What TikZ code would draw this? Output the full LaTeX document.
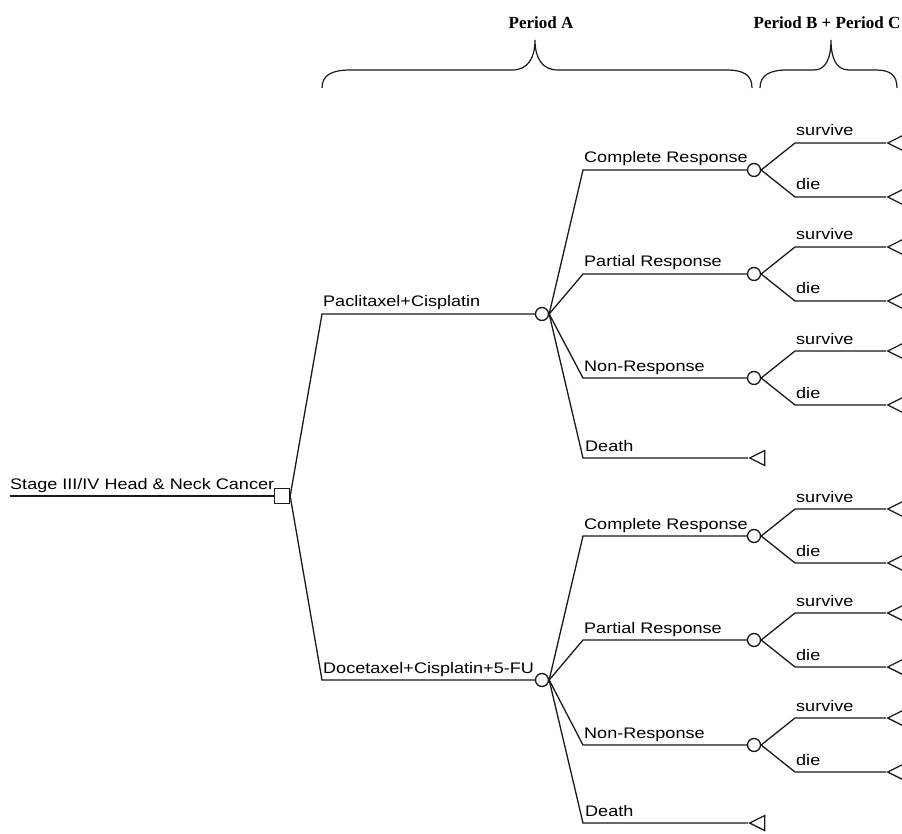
\documentclass[tikz,border=0pt]{standalone}
\usepackage{fontspec}
\setmainfont{Liberation Sans}[FakeStretch=1.18]
\newfontfamily\hdrfont{Liberation Serif}
\usetikzlibrary{shapes.geometric}
\tikzset{
  br/.style={line width=1.3pt, draw=black!90},
  brace/.style={line width=1.2pt, draw=black!90},
  lbl/.style={anchor=base west, inner sep=0pt, font=\fontsize{15.3}{18}\selectfont},
  hdr/.style={anchor=base, inner sep=0pt, font=\hdrfont\bfseries\fontsize{17}{20}\selectfont},
  chance/.style={circle, draw=black!90, line width=1.3pt, minimum size=13pt, inner sep=0pt, fill=white},
  decision/.style={rectangle, draw=black!90, line width=1.3pt, minimum size=15pt, inner sep=0pt, fill=white},
  term/.style={isosceles triangle, isosceles triangle stretches, shape border rotate=180,
    minimum height=15pt, minimum width=15pt, inner sep=0pt, draw=black!90, line width=1.3pt, anchor=apex}
}
\begin{document}
\begin{tikzpicture}[x=1pt,y=-1pt]
\useasboundingbox (0,0) rectangle (902,834);

% headers
\node[hdr] (pa) at (541,29) {Period A};
\node[hdr] (pbc) at (827,29) {Period B + Period C};
\draw[brace] (322,88) .. controls (322,75) and (332,70) .. (350,70) -- (512,70)
  .. controls (528,70) and (535,58) .. (535,40)
  .. controls (535,58) and (542,70) .. (558,70) -- (726,70)
  .. controls (744,70) and (752,75) .. (752,88);
\draw[brace] (760,88) .. controls (760,75) and (770,70) .. (787,70) -- (814,70)
  .. controls (826,70) and (831,58) .. (831,40)
  .. controls (831,58) and (836,70) .. (849,70) -- (876,70)
  .. controls (890,70) and (897,75) .. (897,88);

% root
\coordinate (r0) at (10,496);
\node[decision] (d) at (282,496) {};
\draw[br] (r0) -- (d.west);
\node[lbl] (lroot) at (10,489) {Stage III/IV Head \& Neck Cancer};

% treatments
\node[chance] (t1) at (542,314) {};
\coordinate (t1k) at (322,314);
\draw[br] (d.east) -- (t1k) -- (t1.west);
\node[lbl] (lt1) at (323,307) {Paclitaxel+Cisplatin};

\node[chance] (t2) at (542,680) {};
\coordinate (t2k) at (322,680);
\draw[br] (d.east) -- (t2k) -- (t2.west);
\node[lbl] (lt2) at (323,673) {Docetaxel+Cisplatin+5-FU};

\foreach \t/\ya/\yb/\yc/\yd in {1/170/274/378/458, 2/536/640/745/823} {
  \foreach \k/\lab/\y in {1/Complete Response/\ya, 2/Partial Response/\yb, 3/Non-Response/\yc} {
    \node[chance] (o\t\k) at (754,\y) {};
    \coordinate (ok\t\k) at (583,\y);
    \draw[br] (t\t.east) -- (ok\t\k) -- (o\t\k.west);
    \node[lbl] (lo\t\k) at (584,\y-7) {\lab};
    % survive
    \coordinate (sk\t\k) at (795,\y-27);
    \node[term] (ts\t\k) at (886,\y-27) {};
    \draw[br] (o\t\k.east) -- (sk\t\k) -- (ts\t\k.apex);
    \node[lbl] (ls\t\k) at (796,\y-34) {survive};
    % die
    \coordinate (dk\t\k) at (795,\y+27);
    \node[term] (td\t\k) at (886,\y+27) {};
    \draw[br] (o\t\k.east) -- (dk\t\k) -- (td\t\k.apex);
    \node[lbl] (ld\t\k) at (796,\y+20) {die};
  }
  % death
  \coordinate (dth\t) at (583,\yd);
  \node[term] (tdth\t) at (748,\yd) {};
  \draw[br] (t\t.east) -- (dth\t) -- (tdth\t.apex);
  \node[lbl] (ldth\t) at (585,\yd-7) {Death};
}
\end{tikzpicture}
\end{document}
